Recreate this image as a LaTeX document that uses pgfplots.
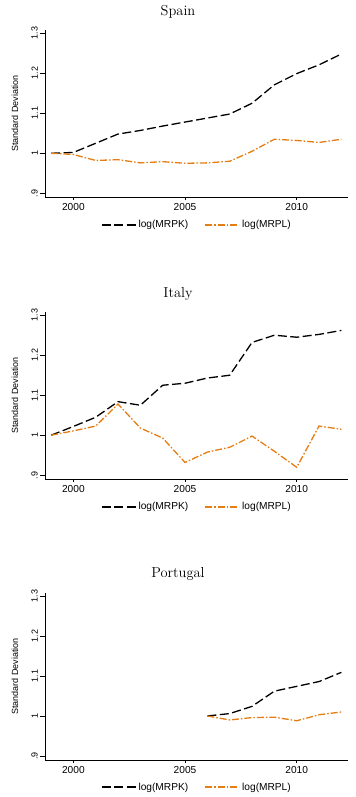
\documentclass[border=0pt]{standalone}
\usepackage{pgfplots}
\pgfplotsset{compat=1.18}
\usepackage{fontspec}
\newfontfamily\arial{Liberation Sans}
\definecolor{sorange}{RGB}{230,125,20}
\pgfplotstableread{
year mrpk mrpl
1999 1.000 1.000
2000 1.002 0.997
2001 1.025 0.982
2002 1.048 0.984
2003 1.057 0.976
2004 1.068 0.979
2005 1.078 0.975
2006 1.088 0.976
2007 1.098 0.980
2008 1.125 1.005
2009 1.171 1.035
2010 1.199 1.032
2011 1.221 1.027
2012 1.248 1.035
}\spain
\pgfplotstableread{
year mrpk mrpl
1999 1.000 1.000
2000 1.022 1.011
2001 1.045 1.023
2002 1.084 1.078
2003 1.075 1.018
2004 1.125 0.993
2005 1.130 0.932
2006 1.143 0.958
2007 1.150 0.970
2008 1.232 0.998
2009 1.250 0.960
2010 1.245 0.920
2011 1.252 1.023
2012 1.262 1.015
}\italy
\pgfplotstableread{
year mrpk mrpl
2006 1.000 1.000
2007 1.006 0.990
2008 1.024 0.996
2009 1.062 0.997
2010 1.074 0.988
2011 1.086 1.003
2012 1.109 1.010
}\portugal
\pgfplotsset{
  panel/.style={
    scale only axis,
    width=303.3bp, height=167.3bp,
    xmin=1998.73, xmax=2012.31,
    ymin=0.89, ymax=1.308,
    axis x line=bottom, axis y line=left,
    axis line style={-, line width=0.9bp, black},
    xtick={2000,2005,2010}, xticklabels={2000,2005,2010},
    ytick={0.9,1,1.1,1.2,1.3}, yticklabels={.9,1,1.1,1.2,1.3},
    tick style={black, line width=0.6bp},
    major tick length=5bp,
    xtick style={/pgfplots/major tick length=2.5bp},
    tick align=outside,
    xticklabel style={font=\arial\fontsize{10.2}{12}\selectfont, inner sep=1bp},
    yticklabel style={font=\arial\fontsize{9}{11}\selectfont, rotate=90, anchor=south, inner sep=2bp},
    ylabel={Standard Deviation},
    ylabel style={font=\arial\fontsize{9}{11}\selectfont, at={(axis description cs:-0.099,0.5)}, anchor=center},
    every axis title shift=0pt,
    title style={font=\fontsize{14.5}{17}\selectfont, at={(axis description cs:0.4385,1)}, anchor=center, yshift=18.3bp},
    legend style={at={(axis description cs:0.5,-0.163)}, anchor=center, draw=none, fill=none,
      font=\arial\fontsize{10.2}{12}\selectfont, legend columns=2,
      /tikz/every even column/.append style={column sep=14bp}},
    legend image code/.code={\draw[#1, line width=2bp] (0bp,0bp) -- (34bp,0bp);},
    clip=false,
  },
  kline/.style={black, line width=1.3bp, dash pattern=on 9bp off 3.5bp},
  oline/.style={sorange, line width=1.3bp, dash pattern=on 7bp off 2bp on 1.5bp off 2bp},
}
\begin{document}
\begin{tikzpicture}
\begin{axis}[panel, at={(45bp,599.7bp)}, anchor=south west, title={Spain}]
\addplot[kline] table[x=year,y=mrpk]{\spain};
\addlegendentry{log(MRPK)}
\addplot[oline] table[x=year,y=mrpl]{\spain};
\addlegendentry{log(MRPL)}
\end{axis}
\begin{axis}[panel, at={(45bp,317.7bp)}, anchor=south west, title={Italy}]
\addplot[kline] table[x=year,y=mrpk]{\italy};
\addlegendentry{log(MRPK)}
\addplot[oline] table[x=year,y=mrpl]{\italy};
\addlegendentry{log(MRPL)}
\end{axis}
\begin{axis}[panel, at={(45bp,37bp)}, anchor=south west, title={Portugal}]
\addplot[kline] table[x=year,y=mrpk]{\portugal};
\addlegendentry{log(MRPK)}
\addplot[oline] table[x=year,y=mrpl]{\portugal};
\addlegendentry{log(MRPL)}
\end{axis}
\pgfresetboundingbox
\path[use as bounding box] (0bp,0bp) rectangle (356bp,797bp);
\end{tikzpicture}
\end{document}
